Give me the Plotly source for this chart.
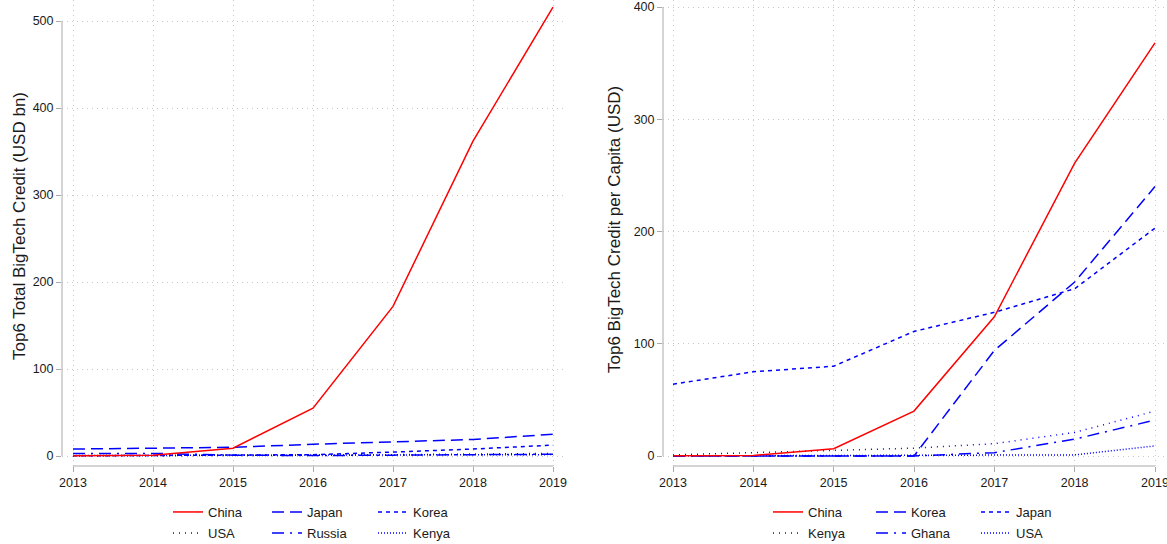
import plotly.graph_objects as go

years = [2013, 2014, 2015, 2016, 2017, 2018, 2019]

# Left panel: Top6 Total BigTech Credit (USD bn)
left_china = [0.3, 1.0, 9.0, 55.0, 172.0, 362.0, 516.0]
left_japan = [8.0, 9.0, 10.0, 13.5, 16.0, 19.0, 25.0]
left_korea = [0.2, 0.5, 1.0, 1.5, 4.5, 8.0, 12.5]
left_usa = [0.1, 0.2, 0.4, 0.8, 1.5, 2.0, 3.0]
left_russia = [3.0, 3.0, 1.0, 0.5, 1.0, 1.5, 2.0]
left_kenya = [0.5, 0.7, 0.9, 1.0, 1.2, 1.4, 1.6]

# Right panel: Top6 BigTech Credit per Capita (USD)
right_china = [0.3, 0.5, 6.5, 40.0, 124.0, 261.0, 368.0]
right_korea = [0.0, 0.0, 0.0, 0.0, 94.0, 155.0, 240.0]
right_japan = [64.0, 75.0, 80.0, 111.0, 128.0, 149.0, 203.0]
right_kenya = [1.0, 3.0, 5.0, 7.0, 11.0, 21.0, 40.0]
right_ghana = [0.0, 0.0, 0.0, 0.0, 3.0, 15.0, 32.0]
right_usa = [0.1, 0.2, 0.3, 0.4, 0.6, 1.0, 9.0]

left_yticks = [0, 100, 200, 300, 400, 500]
right_yticks = [0, 100, 200, 300, 400]

RED = "#FF0000"
BLUE = "#0000FF"
W, H = 1167, 544
FONT = "Liberation Sans, Arial, sans-serif"
TXT = "#1a1a1a"

DASH = {
    "solid": "solid",
    "longdash": "12px,6px",
    "shortdash": "4px,4px",
    "dot": "1px,5px",
    "dashdot": "12px,6px,2px,6px",
    "densedot": "1px,2px",
}

left_series = [
    ("China", left_china, RED, "solid"),
    ("Japan", left_japan, BLUE, "longdash"),
    ("Korea", left_korea, BLUE, "shortdash"),
    ("USA", left_usa, BLUE, "dot"),
    ("Russia", left_russia, BLUE, "dashdot"),
    ("Kenya", left_kenya, BLUE, "densedot"),
]
right_series = [
    ("China", right_china, RED, "solid"),
    ("Korea", right_korea, BLUE, "longdash"),
    ("Japan", right_japan, BLUE, "shortdash"),
    ("Kenya", right_kenya, BLUE, "dot"),
    ("Ghana", right_ghana, BLUE, "dashdot"),
    ("USA", right_usa, BLUE, "densedot"),
]

# legend text positions (px): columns & rows
left_cols = [210, 309, 415]
right_cols = [810, 913, 1018]
rows = [512, 533]

traces_left, traces_right = [], []
layout_legends = {}
idx = 0
for series, cols, xa, ya, bucket in [(left_series, left_cols, "x", "y", traces_left),
                                     (right_series, right_cols, "x2", "y2", traces_right)]:
    for k, (name, vals, color, dash) in enumerate(series):
        idx += 1
        lname = "legend" if idx == 1 else f"legend{idx}"
        bucket.append(go.Scatter(
            x=years, y=vals, mode="lines", name=name,
            line=dict(color=color, width=1.5, dash=DASH[dash]),
            xaxis=xa, yaxis=ya, legend=lname, showlegend=True,
        ))
        col = k % 3
        row = k // 3
        layout_legends[lname] = dict(
            x=(cols[col] - 42) / W, y=1 - rows[row] / H,
            xanchor="left", yanchor="middle",
            orientation="h", bgcolor="rgba(0,0,0,0)",
            font=dict(family=FONT, size=13, color=TXT),
            itemwidth=30,
        )

# China drawn last (on top) in each panel
fig = go.Figure(data=traces_left[1:] + traces_left[:1] + traces_right[1:] + traces_right[:1])

ydom = [(H - 466) / H, 1.0]

axis_common = dict(
    showline=False, zeroline=False,
    showgrid=True, gridcolor="#C8C8C8", griddash="1px,4px", gridwidth=1,
    ticks="outside", ticklen=5, tickcolor="#AAAAAA", tickwidth=1,
    tickfont=dict(family=FONT, size=12.5, color=TXT),
    ticklabeloverflow="allow",
)

fig.update_layout(
    width=W, height=H,
    margin=dict(l=0, r=0, t=0, b=0, autoexpand=False),
    paper_bgcolor="white", plot_bgcolor="white",
    font=dict(family=FONT, size=12, color=TXT),
    xaxis=dict(domain=[62 / W, 565 / W], range=[2013 - 11 / 80, 2019 + 12 / 80],
               tickvals=years, anchor="y", **axis_common),
    yaxis=dict(domain=ydom, range=[-10 / 0.87, 500 + 21 / 0.87],
               tickvals=left_yticks, anchor="x", **axis_common),
    xaxis2=dict(domain=[663 / W, 1.0], range=[2013 - 10 / 80.33, 2019 + 12 / 80.33],
                tickvals=years, anchor="y2", **axis_common),
    yaxis2=dict(domain=ydom, range=[-10 / 1.1225, 400 + 7 / 1.1225],
                tickvals=right_yticks, anchor="x2", **axis_common),
    **layout_legends,
)

AX = "#AAAAAA"
shapes = [
    dict(type="line", xref="x domain", yref="y", x0=0, x1=0, y0=0, y1=500,
         line=dict(color=AX, width=1)),
    dict(type="line", xref="x", yref="y domain", x0=2013, x1=2019, y0=0, y1=0,
         line=dict(color=AX, width=1)),
    dict(type="line", xref="x2 domain", yref="y2", x0=0, x1=0, y0=0, y1=400,
         line=dict(color=AX, width=1)),
    dict(type="line", xref="x2", yref="y2 domain", x0=2013, x1=2019, y0=0, y1=0,
         line=dict(color=AX, width=1)),
]
fig.update_layout(shapes=shapes)

fig.add_annotation(text="Top6 Total BigTech Credit (USD bn)", xref="paper", yref="paper",
                   x=19 / W, y=1 - 226 / H, textangle=-90, showarrow=False,
                   xanchor="center", yanchor="middle",
                   font=dict(family=FONT, size=17, color=TXT))
fig.add_annotation(text="Top6 BigTech Credit per Capita (USD)", xref="paper", yref="paper",
                   x=614 / W, y=1 - 230 / H, textangle=-90, showarrow=False,
                   xanchor="center", yanchor="middle",
                   font=dict(family=FONT, size=17, color=TXT))

fig.write_html("out.html")
